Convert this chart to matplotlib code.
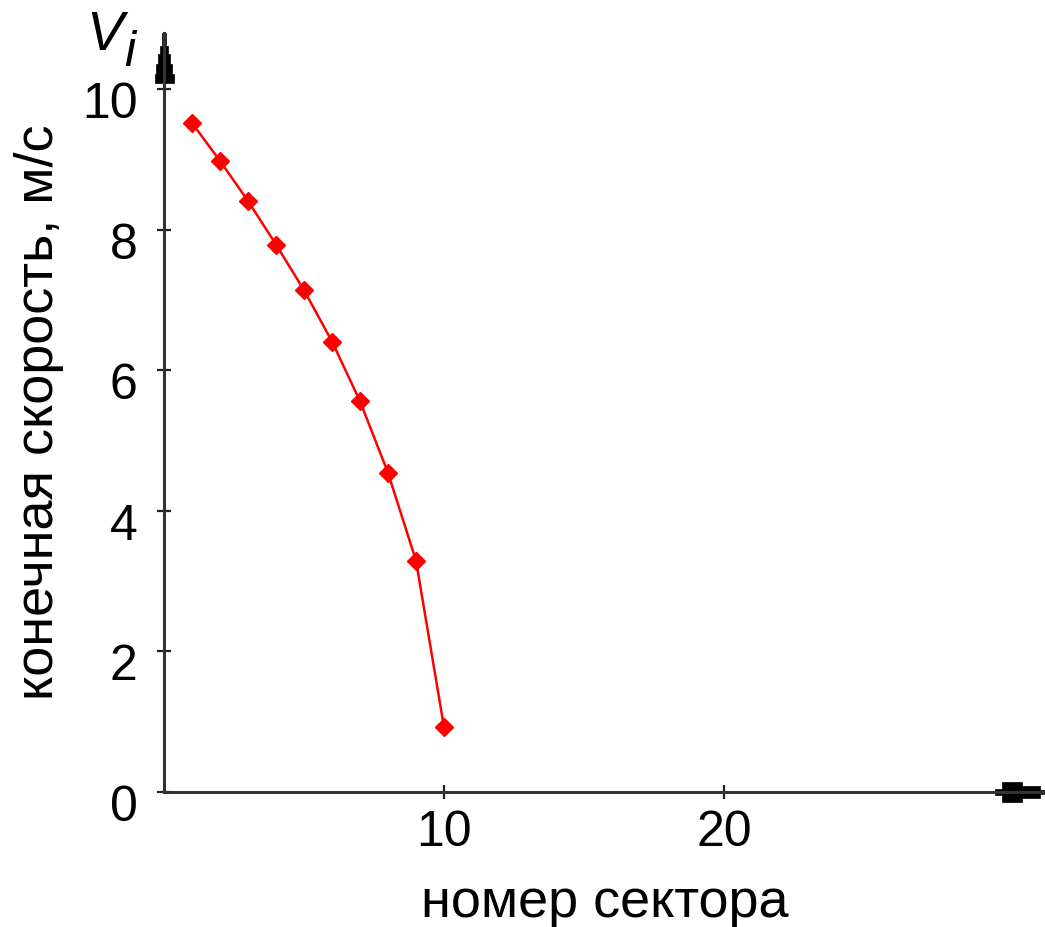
import matplotlib
matplotlib.use("Agg")
import matplotlib.pyplot as plt
from matplotlib.patches import Polygon
from matplotlib.transforms import ScaledTranslation

# Final speed per sector
sector = [1, 2, 3, 4, 5, 6, 7, 8, 9, 10]
speed = [9.52, 8.98, 8.41, 7.79, 7.14, 6.41, 5.56, 4.54, 3.29, 0.92]

x_ticks = [10, 20]
y_ticks = [0, 2, 4, 6, 8, 10]

plt.rcParams['font.family'] = ['Liberation Sans', 'DejaVu Sans']

W, H = 1045, 927
DPI = 100
fig = plt.figure(figsize=(W / DPI, H / DPI), dpi=DPI)
ax = fig.add_axes([164 / W, (H - 792) / H, 881 / W, 759 / H])

ax.set_xlim(0, 31.46)
ax.set_ylim(0, 10.8)

for side in ('top', 'right'):
    ax.spines[side].set_visible(False)
for side in ('left', 'bottom'):
    ax.spines[side].set_color('#333333')
    ax.spines[side].set_linewidth(2.2)

ax.set_xticks(x_ticks)
ax.set_yticks(y_ticks)
ax.tick_params(direction='inout', length=10, width=1.6, color='#222222',
               labelsize=36)
ax.tick_params(axis='y', pad=14)
ax.tick_params(axis='x', pad=8)

# nudge y tick labels a little down
shift = ScaledTranslation(0, -11 / DPI, fig.dpi_scale_trans)
for lab in ax.get_yticklabels():
    lab.set_transform(lab.get_transform() + shift)


def stepped_head(length, steps):
    """Stepped arrowhead pointing along +x, in pixels: steps = [(x0, half-width), ...]."""
    top = []
    for i, (x0, hw) in enumerate(steps):
        x1 = steps[i + 1][0] if i + 1 < len(steps) else length
        top += [(x0, hw), (x1, hw)]
    bottom = [(x, -y) for x, y in reversed(top)]
    return top + bottom


HEAD_LEN = 50
y_head = stepped_head(HEAD_LEN, [(0, 9.5), (9, 8), (19, 6), (29, 4), (37, 2)])
x_head = stepped_head(HEAD_LEN, [(0, 3), (7, 10), (27, 6), (45, 2)])


def add_head(head, anchor, vertical):
    if vertical:
        pts = [(-y, x - HEAD_LEN) for x, y in head]
    else:
        pts = [(x - HEAD_LEN, y) for x, y in head]
    pts = [(px / DPI, py / DPI) for px, py in pts]
    tr = fig.dpi_scale_trans + ScaledTranslation(anchor[0], anchor[1], ax.transAxes)
    ax.add_patch(Polygon(pts, closed=True, facecolor='black', edgecolor='black',
                         linewidth=0.5, transform=tr, clip_on=False))


add_head(y_head, (0, 1), vertical=True)
add_head(x_head, (1, 0), vertical=False)

ax.plot(sector, speed, color='#ff0000', linewidth=1.8, marker='D',
        markersize=9.5, markerfacecolor='#ff0000', markeredgecolor='#ff0000')

ax.set_xlabel('номер сектора', fontsize=39, labelpad=16)
ax.set_ylabel('конечная скорость, м/с', fontsize=39, labelpad=13)

fig.text(86 / W, 1 - 50 / H, 'V', fontsize=40, fontstyle='italic')
fig.text(124 / W, 1 - 66 / H, 'i', fontsize=36, fontstyle='italic')

fig.savefig('out.png', dpi=DPI, facecolor='white')
